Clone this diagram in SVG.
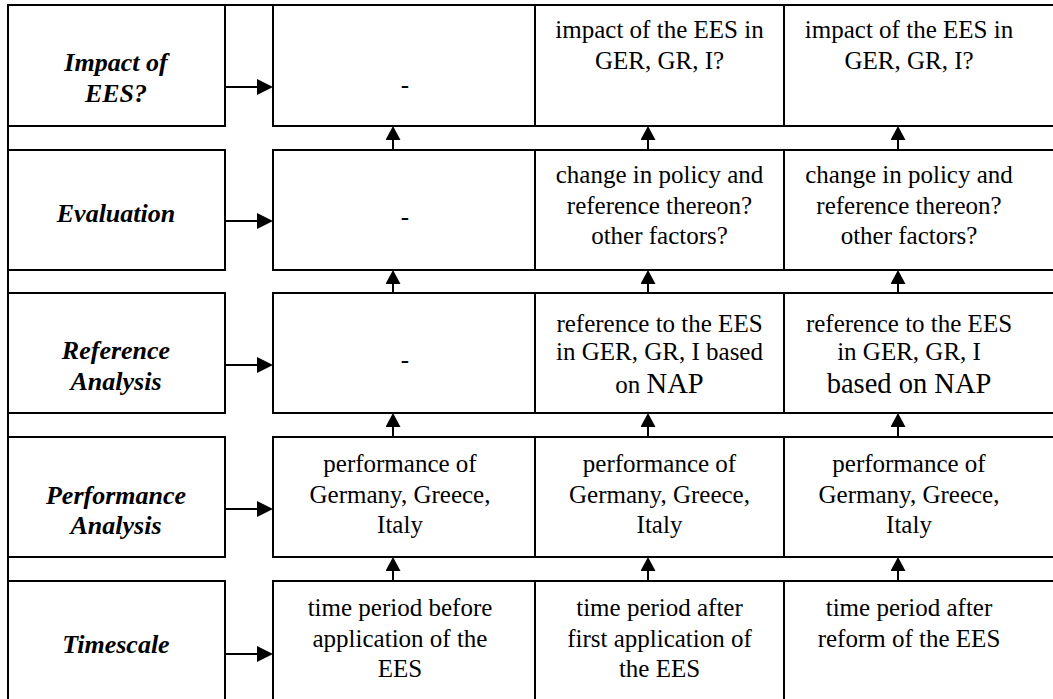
<svg xmlns="http://www.w3.org/2000/svg" width="1053" height="699" viewBox="0 0 1053 699">
<style>
.box{fill:#fff;stroke:#000;stroke-width:2}
.ln{stroke:#000;stroke-width:2;fill:none}
.lbl{font-family:'Liberation Serif',serif;font-size:26px;font-weight:bold;font-style:italic;text-anchor:middle;fill:#000}
.t{font-family:'Liberation Serif',serif;font-size:25px;text-anchor:middle;fill:#000}
.big{font-size:28.5px}
</style>
<defs>
<marker id="ar" markerUnits="userSpaceOnUse" markerWidth="16" markerHeight="16" viewBox="0 0 16 16" refX="13" refY="8" orient="auto"><path d="M0,0 L16,8 L0,16 z" fill="#000"/></marker>
<marker id="au" markerUnits="userSpaceOnUse" markerWidth="15" markerHeight="15" viewBox="0 0 14 15" refX="11" refY="7.5" orient="auto"><path d="M0,0 L14,7.5 L0,15 z" fill="#000"/></marker>
</defs>
<rect width="1053" height="699" fill="#fff"/>
<g id="label-impact"><rect class="box" x="8" y="5" width="217" height="121"/><text class="lbl" x="116" y="71">Impact of</text><text class="lbl" x="116" y="101.7">EES?</text></g>
<g id="label-evaluation"><rect class="box" x="8" y="150" width="217" height="120"/><text class="lbl" x="116" y="221.7">Evaluation</text></g>
<g id="label-reference"><rect class="box" x="8" y="293" width="217" height="120"/><text class="lbl" x="116" y="359.3">Reference</text><text class="lbl" x="116" y="390">Analysis</text></g>
<g id="label-performance"><rect class="box" x="8" y="437" width="217" height="120"/><text class="lbl" x="116" y="504">Performance</text><text class="lbl" x="116" y="534">Analysis</text></g>
<g id="label-timescale"><rect class="box" x="8" y="581" width="217" height="130"/><text class="lbl" x="116" y="653.3">Timescale</text></g>

<g id="r1c1"><rect class="box" x="273" y="5" width="262" height="121"/><text class="t" x="405" y="93">-</text></g>
<g id="r1c2"><rect class="box" x="535" y="5" width="249" height="121"/><text class="t" x="659.5" y="38">impact of the EES in</text><text class="t" x="659.5" y="68.5">GER, GR, I?</text></g>
<g id="r1c3"><rect class="box" x="784" y="5" width="280" height="121"/><text class="t" x="909" y="38">impact of the EES in</text><text class="t" x="909" y="68.5">GER, GR, I?</text></g>

<g id="r2c1"><rect class="box" x="273" y="150" width="262" height="120"/><text class="t" x="405" y="225">-</text></g>
<g id="r2c2"><rect class="box" x="535" y="150" width="249" height="120"/><text class="t" x="659.5" y="183.3">change in policy and</text><text class="t" x="659.5" y="213.8">reference thereon?</text><text class="t" x="659.5" y="244.3">other factors?</text></g>
<g id="r2c3"><rect class="box" x="784" y="150" width="280" height="120"/><text class="t" x="909" y="183.3">change in policy and</text><text class="t" x="909" y="213.8">reference thereon?</text><text class="t" x="909" y="244.3">other factors?</text></g>

<g id="r3c1"><rect class="box" x="273" y="293" width="262" height="120"/><text class="t" x="405" y="368">-</text></g>
<g id="r3c2"><rect class="box" x="535" y="293" width="249" height="120"/><text class="t" x="659.5" y="332">reference to the EES</text><text class="t" x="659.5" y="360.3">in GER, GR, I based</text><text class="t" x="659.5" y="393.3">on <tspan class="big">NAP</tspan></text></g>
<g id="r3c3"><rect class="box" x="784" y="293" width="280" height="120"/><text class="t" x="909" y="332">reference to the EES</text><text class="t" x="909" y="360.3">in GER, GR, I</text><text class="t big" x="909" y="393.3">based on NAP</text></g>

<g id="r4c1"><rect class="box" x="273" y="437" width="262" height="120"/><text class="t" x="400" y="472">performance of</text><text class="t" x="400" y="502.5">Germany, Greece,</text><text class="t" x="400" y="533">Italy</text></g>
<g id="r4c2"><rect class="box" x="535" y="437" width="249" height="120"/><text class="t" x="659.5" y="472">performance of</text><text class="t" x="659.5" y="502.5">Germany, Greece,</text><text class="t" x="659.5" y="533">Italy</text></g>
<g id="r4c3"><rect class="box" x="784" y="437" width="280" height="120"/><text class="t" x="909" y="472">performance of</text><text class="t" x="909" y="502.5">Germany, Greece,</text><text class="t" x="909" y="533">Italy</text></g>

<g id="r5c1"><rect class="box" x="273" y="581" width="262" height="130"/><text class="t" x="400" y="616">time period before</text><text class="t" x="400" y="646.5">application of the</text><text class="t" x="400" y="677">EES</text></g>
<g id="r5c2"><rect class="box" x="535" y="581" width="249" height="130"/><text class="t" x="659.5" y="616">time period after</text><text class="t" x="659.5" y="646.5">first application of</text><text class="t" x="659.5" y="677">the EES</text></g>
<g id="r5c3"><rect class="box" x="784" y="581" width="280" height="130"/><text class="t" x="909" y="616">time period after</text><text class="t" x="909" y="646.5">reform of the EES</text></g>

<g id="connectors">
<line class="ln" x1="8" y1="5" x2="8" y2="710"/>
<line class="ln" x1="225" y1="5" x2="273" y2="5"/>
<line class="ln" x1="225" y1="87" x2="270" y2="87" marker-end="url(#ar)"/>
<line class="ln" x1="225" y1="221" x2="270" y2="221" marker-end="url(#ar)"/>
<line class="ln" x1="225" y1="365" x2="270" y2="365" marker-end="url(#ar)"/>
<line class="ln" x1="225" y1="509" x2="270" y2="509" marker-end="url(#ar)"/>
<line class="ln" x1="225" y1="654" x2="270" y2="654" marker-end="url(#ar)"/>
<line class="ln" x1="393" y1="150" x2="393" y2="129" marker-end="url(#au)"/>
<line class="ln" x1="648" y1="150" x2="648" y2="129" marker-end="url(#au)"/>
<line class="ln" x1="898" y1="150" x2="898" y2="129" marker-end="url(#au)"/>
<line class="ln" x1="393" y1="293" x2="393" y2="273" marker-end="url(#au)"/>
<line class="ln" x1="648" y1="293" x2="648" y2="273" marker-end="url(#au)"/>
<line class="ln" x1="898" y1="293" x2="898" y2="273" marker-end="url(#au)"/>
<line class="ln" x1="393" y1="437" x2="393" y2="416" marker-end="url(#au)"/>
<line class="ln" x1="648" y1="437" x2="648" y2="416" marker-end="url(#au)"/>
<line class="ln" x1="898" y1="437" x2="898" y2="416" marker-end="url(#au)"/>
<line class="ln" x1="393" y1="581" x2="393" y2="560" marker-end="url(#au)"/>
<line class="ln" x1="648" y1="581" x2="648" y2="560" marker-end="url(#au)"/>
<line class="ln" x1="898" y1="581" x2="898" y2="560" marker-end="url(#au)"/>
</g>
</svg>
